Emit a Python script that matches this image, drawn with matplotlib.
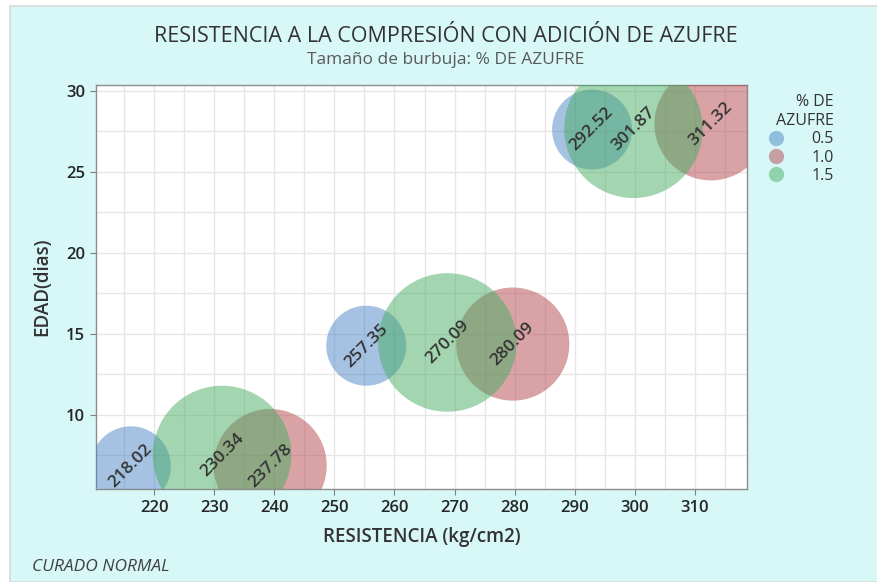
import matplotlib
matplotlib.use("Agg")
import matplotlib.pyplot as plt
from matplotlib.patches import Rectangle
from matplotlib.lines import Line2D
import numpy as np

plt.rcParams['font.family'] = ['Open Sans', 'DejaVu Sans']

# ---- data ----
azufre_levels = ["0.5", "1.0", "1.5"]
azufre_values = [0.5, 1.0, 1.5]
# bubble centres as placed in the chart (x = resistencia, y = edad)
x_05 = [216.1, 255.3, 292.9]
y_05 = [6.8, 14.25, 27.6]
lab_05 = ["218.02", "257.35", "292.52"]

x_10 = [239.3, 279.7, 312.7]
y_10 = [6.85, 14.35, 27.95]
lab_10 = ["237.78", "280.09", "311.32"]

x_15 = [231.3, 268.8, 299.8]
y_15 = [7.5, 14.45, 27.65]
lab_15 = ["230.34", "270.09", "301.87"]

x_ticks = [220, 230, 240, 250, 260, 270, 280, 290, 300, 310]
y_ticks = [10, 15, 20, 25, 30]

colors = {"0.5": "#4d86c6", "1.0": "#b5484f", "1.5": "#47ad63"}
alpha = 0.5

W, H = 878, 582
DPI = 100
fig = plt.figure(figsize=(W / DPI, H / DPI), dpi=DPI, facecolor="white")

# background panel
fig.patches.append(Rectangle((10.5 / W, 0), 1 - 10.5 / W + 0.01, 1 - 5.5 / H,
                             transform=fig.transFigure, facecolor="#d8f8f8",
                             edgecolor="#d9d9d9", linewidth=1.2, zorder=-10))

ax = fig.add_axes([96 / W, 1 - 489 / H, (747 - 96) / W, (489 - 85) / H])
ax.set_facecolor("white")
ax.set_xlim(210.3, 318.7)
ax.set_ylim(5.4, 30.35)

# area proportional to % azufre; radius 40 px for 0.5
def size_for(v):
    r_px = 40.0 * np.sqrt(v / 0.5)
    return (2 * r_px * 72.0 / DPI) ** 2

series = [("0.5", x_05, y_05, lab_05, 0.5),
          ("1.0", x_10, y_10, lab_10, 1.0),
          ("1.5", x_15, y_15, lab_15, 1.5)]
for name, xs, ys, labs, v in series:
    ax.scatter(xs, ys, s=size_for(v), color=colors[name], alpha=alpha,
               edgecolors="none", zorder=3, clip_on=True)
for name, xs, ys, labs, v in series:
    for x, y, t in zip(xs, ys, labs):
        ax.text(x, y, t, rotation=45, ha="center", va="center",
                fontsize=12.5, color="#333333", fontweight="semibold",
                zorder=5, rotation_mode="anchor", clip_on=True)

ax.set_xticks(x_ticks)
ax.set_yticks(y_ticks)
ax.set_xticks(np.arange(215, 320, 5), minor=True)
ax.set_yticks(np.arange(7.5, 30.1, 2.5), minor=True)
ax.grid(True, which="both", color="#e6e6e6", linewidth=1.0, zorder=0)
ax.set_axisbelow(True)
ax.tick_params(axis="both", which="major", length=4, color="#808080",
               labelsize=12, labelcolor="#262626", pad=4)
ax.tick_params(axis="both", which="minor", length=0)
for lbl in ax.get_xticklabels() + ax.get_yticklabels():
    lbl.set_fontweight("semibold")
for sp in ax.spines.values():
    sp.set_color("#8c8c8c")
    sp.set_linewidth(1.0)

ax.set_xlabel("RESISTENCIA (kg/cm2)", fontsize=13.5, color="#333333",
              fontweight="semibold", labelpad=8)
ax.set_ylabel("EDAD(dias)", fontsize=13.5, color="#333333",
              fontweight="semibold", labelpad=10)

fig.text(446 / W, 1 - 36 / H, "RESISTENCIA A LA COMPRESIÓN CON ADICIÓN DE AZUFRE",
         ha="center", va="center", fontsize=15.5, color="#333333")
fig.text(446 / W, 1 - 60 / H, "Tamaño de burbuja: % DE AZUFRE",
         ha="center", va="center", fontsize=12.5, color="#595959")
fig.text(32 / W, 1 - 567 / H, "CURADO NORMAL", ha="left", va="center",
         fontsize=12.5, style="italic", color="#404040")

handles = [Line2D([], [], linestyle="none", marker="o", markersize=11,
                  markerfacecolor=colors[n], markeredgecolor="none", alpha=alpha)
           for n in azufre_levels]
leg = fig.legend(handles, azufre_levels, title="% DE\nAZUFRE",
                 loc="upper right", bbox_to_anchor=(840 / W, 1 - 88 / H),
                 frameon=False, fontsize=11.5, title_fontsize=11.5,
                 alignment="right", handletextpad=1.2, labelspacing=0.15,
                 borderaxespad=0)
for t in leg.get_texts():
    t.set_color("#333333")
leg.get_title().set_color("#333333")
leg.get_title().set_multialignment("right")

fig.savefig("out.png", dpi=DPI, facecolor=fig.get_facecolor())
